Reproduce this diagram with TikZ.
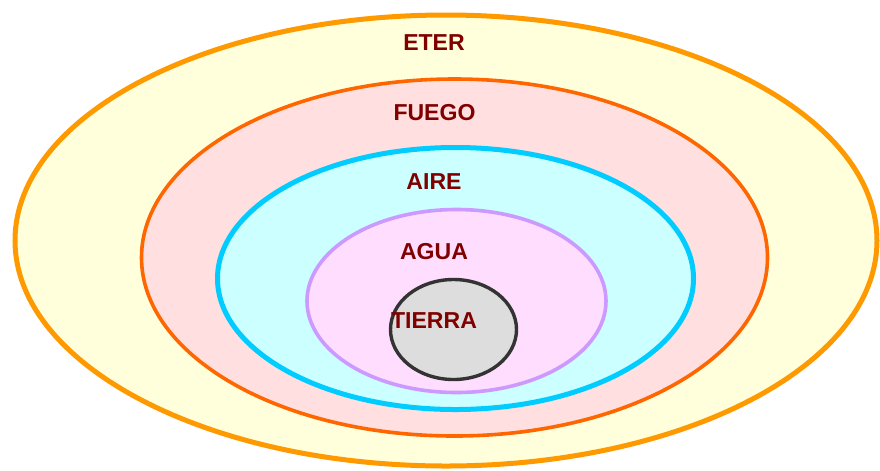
\documentclass[tikz,border=0pt]{standalone}
\usepackage{fontspec}
\setmainfont{Liberation Sans}
\definecolor{etertxt}{HTML}{800000}
\definecolor{eterfill}{HTML}{FFFFDB}
\definecolor{eterline}{HTML}{FF9900}
\definecolor{fuegofill}{HTML}{FFDFDF}
\definecolor{fuegoline}{HTML}{FF6600}
\definecolor{airefill}{HTML}{CCFFFF}
\definecolor{aireline}{HTML}{00CCFF}
\definecolor{aguafill}{HTML}{FFDDFF}
\definecolor{agualine}{HTML}{CC99FF}
\definecolor{tierrafill}{HTML}{DDDDDD}
\definecolor{tierraline}{HTML}{333333}
\tikzset{
  capa/.style={inner sep=0pt, text=etertxt,
    font=\fontsize{16.4}{19}\selectfont\bfseries}
}
\begin{document}
\begin{tikzpicture}[x=0.025cm,y=-0.025cm]
            \useasboundingbox (0,0) rectangle (880,470);
            
            % Drawing sphere ETER
            \draw [line width=0.125cm, draw=eterline, fill=eterfill] (446,240.5) ellipse (431 and 225.5);%
            
            % Drawing sphere FUEGO
            \draw [line width=0.09cm, draw=fuegoline, fill=fuegofill] (454.5,257.5) ellipse (313 and 178.5);%
            
            % Drawing sphere AIRE
            \draw [line width=0.125cm, draw=aireline, fill=airefill] (455.5,278.5) ellipse (238 and 131);%
            
            % Drawing sphere AGUA
            \draw [line width=0.09cm, draw=agualine, fill=aguafill] (456.5,301) ellipse (149.5 and 91.5);%
            
            % Drawing sphere TIERRA
            \draw [line width=0.085cm, draw=tierraline, fill=tierrafill] (453.5,329.5) ellipse (63 and 50);%
            
            % Marking the names
            \node [capa] (eter) at (434,43) {ETER};%
            \node [capa] (fuego) at (434.5,112.5) {FUEGO};%
            \node [capa] (aire) at (434,182) {AIRE};%
            \node [capa] (agua) at (434,251.5) {AGUA};%
            \node [capa] (tierra) at (434,321) {TIERRA};%
\end{tikzpicture}
\end{document}
